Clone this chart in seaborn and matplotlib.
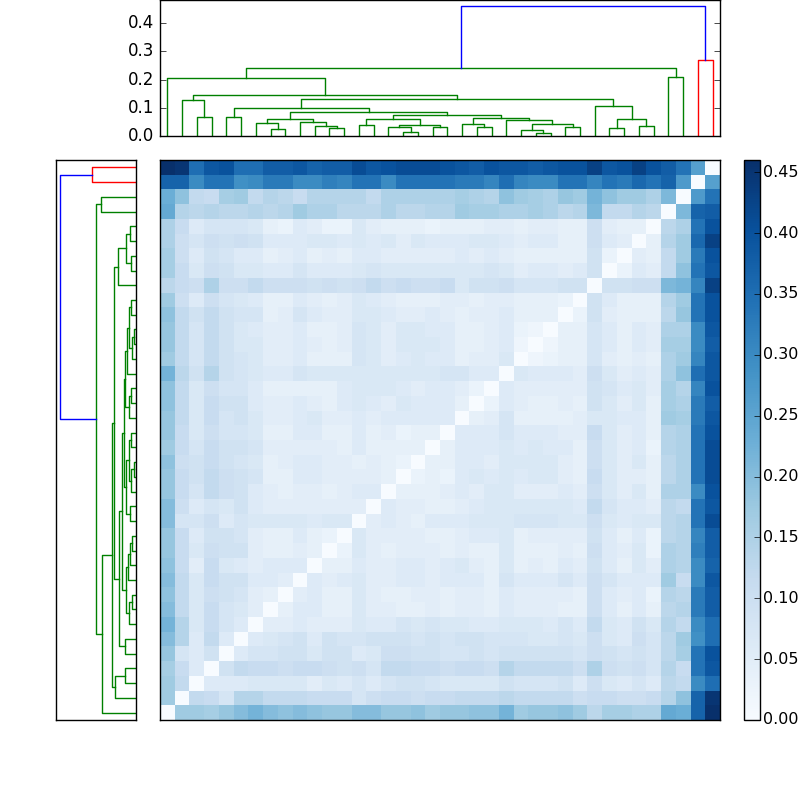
import numpy as np
import pandas as pd
import seaborn as sns
import matplotlib
matplotlib.use("Agg")
import matplotlib.pyplot as plt

plt.style.use("classic")
plt.rcParams["figure.facecolor"] = "white"
plt.rcParams["savefig.facecolor"] = "white"

n_leaves = 38

# linkage: leaves 0..37 (left to right), merge k -> id 38+k
merge_left = [7, 6, 11, 10, 9, 39, 2, 1, 4, 13, 16, 15, 18, 49, 47, 21, 20, 25, 24,
              27, 56, 23, 54, 52, 43, 46, 30, 32, 64, 29, 63, 45, 0, 34, 70, 36, 72]
merge_right = [8, 38, 12, 40, 41, 42, 3, 44, 5, 14, 17, 48, 19, 50, 51, 22, 53, 26, 55,
               28, 57, 58, 59, 60, 61, 62, 31, 33, 65, 66, 67, 68, 69, 35, 71, 37, 73]
merge_height = [0.024, 0.045, 0.027, 0.036, 0.051, 0.059, 0.068, 0.126, 0.069, 0.038,
                0.015, 0.031, 0.033, 0.040, 0.059, 0.031, 0.042, 0.012, 0.022, 0.031,
                0.042, 0.055, 0.065, 0.075, 0.086, 0.100, 0.029, 0.036, 0.060, 0.107,
                0.132, 0.146, 0.204, 0.209, 0.241, 0.268, 0.459]

# distance matrix in leaf order, lower triangle, in hundredths
dist_lower = [
    [],
    [17],
    [17, 12],
    [16, 11, 6],
    [18, 8, 6, 9],
    [20, 14, 6, 12, 6],
    [22, 14, 7, 11, 8, 6],
    [20, 12, 7, 11, 8, 7, 5],
    [19, 12, 7, 10, 9, 8, 5, 4],
    [20, 12, 7, 11, 9, 9, 6, 6, 5],
    [19, 11, 5, 11, 7, 6, 5, 6, 6, 6],
    [18, 11, 7, 10, 9, 9, 5, 4, 4, 5, 4],
    [18, 11, 6, 9, 9, 8, 5, 4, 4, 6, 4, 3],
    [20, 8, 8, 10, 6, 8, 7, 7, 7, 7, 6, 7, 7],
    [20, 10, 6, 8, 7, 9, 6, 5, 5, 5, 5, 5, 5, 5],
    [18, 11, 8, 12, 10, 9, 6, 5, 4, 5, 5, 4, 5, 6, 6],
    [18, 11, 9, 12, 10, 9, 8, 4, 4, 6, 6, 5, 5, 5, 5, 4],
    [19, 10, 9, 11, 9, 8, 7, 4, 5, 6, 6, 5, 5, 4, 5, 4, 3],
    [17, 11, 8, 11, 9, 9, 8, 5, 5, 5, 5, 5, 4, 6, 4, 4, 4, 4],
    [18, 11, 7, 10, 8, 8, 7, 4, 4, 6, 6, 4, 4, 6, 4, 5, 3, 4, 4],
    [18, 12, 7, 11, 8, 9, 7, 5, 5, 6, 7, 5, 5, 6, 5, 6, 6, 6, 6, 6],
    [19, 12, 7, 11, 9, 9, 6, 5, 5, 6, 5, 4, 6, 7, 6, 5, 7, 6, 6, 6, 4],
    [19, 12, 7, 10, 8, 8, 6, 4, 4, 4, 4, 4, 6, 7, 7, 7, 6, 5, 6, 6, 5, 3],
    [22, 13, 9, 14, 9, 8, 7, 6, 6, 8, 7, 7, 7, 7, 7, 7, 7, 7, 7, 8, 8, 6, 6],
    [17, 12, 8, 12, 9, 8, 7, 5, 5, 6, 4, 4, 4, 8, 7, 5, 6, 7, 6, 6, 4, 5, 5, 7],
    [18, 12, 8, 12, 9, 7, 7, 5, 5, 6, 5, 4, 5, 8, 7, 5, 7, 7, 7, 6, 4, 4, 5, 6, 2],
    [18, 12, 8, 12, 9, 7, 6, 5, 5, 6, 4, 4, 5, 8, 7, 5, 7, 7, 6, 6, 4, 4, 5, 6, 3, 2],
    [19, 12, 9, 12, 9, 8, 8, 4, 5, 8, 6, 5, 5, 7, 7, 6, 5, 5, 6, 5, 4, 5, 5, 6, 4, 4, 4],
    [17, 10, 6, 10, 8, 7, 6, 4, 4, 6, 5, 4, 5, 7, 6, 5, 4, 4, 4, 5, 5, 4, 5, 5, 4, 4, 4, 3],
    [13, 11, 10, 15, 10, 10, 12, 10, 10, 10, 9, 10, 9, 10, 12, 10, 11, 10, 10, 11, 7, 9, 9,
     10, 8, 8, 8, 9, 9],
    [16, 11, 7, 10, 9, 7, 7, 6, 6, 8, 6, 6, 6, 7, 8, 7, 7, 7, 7, 7, 7, 7, 8, 7, 5, 6, 6, 5,
     6, 9],
    [16, 10, 6, 9, 8, 6, 6, 4, 5, 6, 4, 5, 4, 6, 6, 5, 5, 5, 5, 5, 6, 5, 6, 5, 4, 4, 4, 4,
     4, 9, 3],
    [15, 10, 8, 10, 9, 10, 9, 6, 6, 6, 7, 7, 6, 7, 6, 7, 5, 7, 6, 6, 6, 7, 7, 6, 5, 6, 6, 4,
     4, 10, 6, 5],
    [15, 11, 6, 8, 8, 8, 7, 4, 3, 6, 5, 3, 3, 7, 5, 4, 4, 4, 3, 4, 4, 4, 5, 5, 4, 5, 5, 4,
     4, 10, 5, 4, 4],
    [24, 14, 13, 14, 13, 13, 14, 13, 14, 17, 15, 15, 13, 13, 13, 15, 13, 13, 14, 14, 17, 16,
     16, 15, 15, 16, 15, 13, 14, 21, 12, 12, 14, 13],
    [23, 19, 12, 11, 16, 17, 12, 14, 13, 11, 14, 14, 14, 14, 12, 15, 15, 15, 15, 15, 16, 15,
     14, 19, 17, 16, 15, 18, 17, 22, 19, 17, 17, 15, 21],
    [37, 37, 30, 34, 34, 29, 30, 33, 33, 30, 30, 32, 31, 34, 34, 30, 34, 34, 34, 34, 33, 33,
     31, 35, 31, 30, 30, 34, 34, 31, 34, 33, 36, 34, 37, 27],
    [46, 45, 35, 39, 40, 35, 35, 38, 38, 39, 37, 38, 38, 41, 39, 40, 41, 41, 41, 40, 39, 38,
     40, 39, 39, 38, 39, 40, 40, 43, 39, 40, 43, 40, 38, 34, 26],
]

cbar_ticks = [0.00, 0.05, 0.10, 0.15, 0.20, 0.25, 0.30, 0.35, 0.40, 0.45]
dendro_yticks = [0.0, 0.1, 0.2, 0.3, 0.4]

D = np.zeros((n_leaves, n_leaves))
for i, row in enumerate(dist_lower):
    for j, v in enumerate(row):
        D[i, j] = D[j, i] = v / 100.0


# dendrogram link coordinates, scipy style (leaf k sits at 5 + 10k)
pos = {k: 5.0 + 10.0 * k for k in range(n_leaves)}
hgt = {k: 0.0 for k in range(n_leaves)}
kids = {}
links = []
for k, (a, b, h) in enumerate(zip(merge_left, merge_right, merge_height)):
    nid = n_leaves + k
    kids[nid] = (a, b)
    links.append((nid, [pos[a], pos[a], pos[b], pos[b]], [hgt[a], h, h, hgt[b]]))
    pos[nid] = (pos[a] + pos[b]) / 2.0
    hgt[nid] = h

threshold = 0.7 * max(merge_height)
palette = ["g", "r", "c", "m", "y", "k"]
node_color = {}
used = [0]


def paint(node, c):
    if node < n_leaves:
        return
    if c is None and hgt[node] < threshold:
        c = palette[used[0] % len(palette)]
        used[0] += 1
    node_color[node] = c if c is not None else "b"
    for ch in kids[node]:
        paint(ch, c)


paint(n_leaves + len(merge_height) - 1, None)

dvw = max(merge_height) * 1.05
ivw = 10.0 * n_leaves

fig = plt.figure(figsize=(8, 8), dpi=100)

# left dendrogram
ax1 = fig.add_axes([0.07, 0.1, 0.1, 0.7])
for nid, xs, ys in links:
    ax1.plot(ys, xs, color=node_color[nid], lw=1)
ax1.set_xlim(dvw, 0)
ax1.set_ylim(0, ivw)
ax1.set_xticks([])
ax1.set_yticks([])

# top dendrogram
ax2 = fig.add_axes([0.2, 0.83, 0.7, 0.17])
for nid, xs, ys in links:
    ax2.plot(xs, ys, color=node_color[nid], lw=1)
ax2.set_xlim(0, ivw)
ax2.set_ylim(0, dvw)
ax2.set_xticks([])
ax2.set_yticks(dendro_yticks)

# distance matrix
axm = fig.add_axes([0.2, 0.1, 0.7, 0.7])
axc = fig.add_axes([0.93, 0.1, 0.02, 0.7])
df = pd.DataFrame(D[::-1])
sns.heatmap(df, ax=axm, cbar_ax=axc, cmap="Blues", vmin=0, vmax=D.max(),
            xticklabels=False, yticklabels=False,
            cbar_kws={"ticks": cbar_ticks, "format": "%.2f"})
for s in axm.spines.values():
    s.set_visible(True)
    s.set_color("k")
    s.set_linewidth(1)
cb = axm.collections[0].colorbar
cb.outline.set_linewidth(1)
cb.outline.set_edgecolor("k")
axc.tick_params(labelsize=11.5, pad=2.5)

fig.savefig("out.png", dpi=100)
